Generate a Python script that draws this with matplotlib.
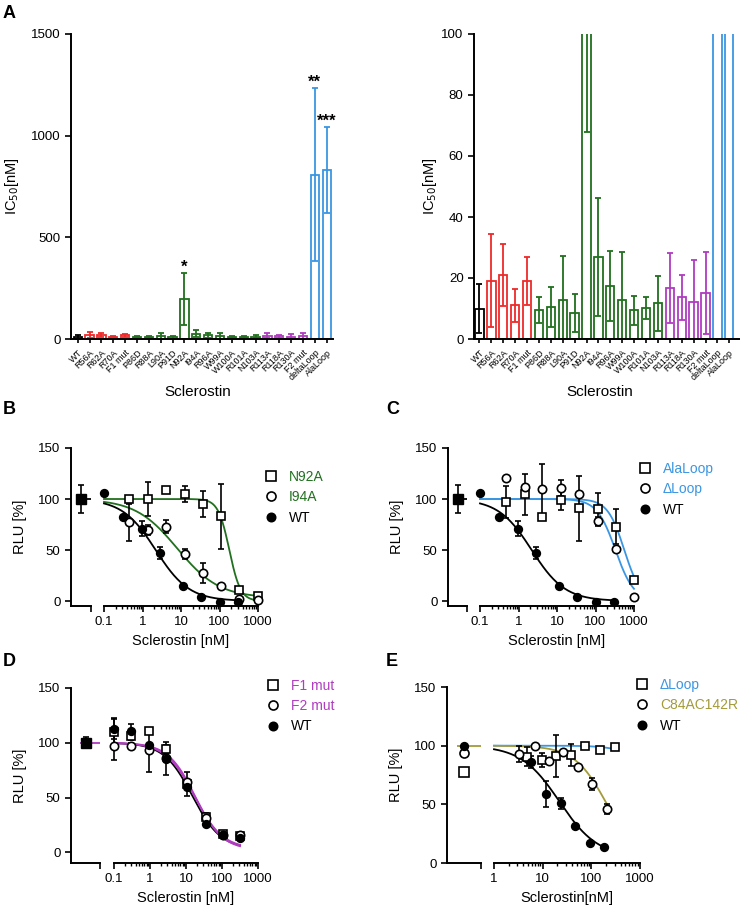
import numpy as np
import matplotlib.pyplot as plt
from matplotlib.lines import Line2D
from matplotlib.ticker import FuncFormatter, NullFormatter

plt.rcParams['font.family'] = ['Liberation Sans', 'DejaVu Sans']
plt.rcParams['axes.linewidth'] = 1.4
plt.rcParams['xtick.major.width'] = 1.2
plt.rcParams['ytick.major.width'] = 1.2
plt.rcParams['xtick.minor.width'] = 1.0
plt.rcParams['xtick.major.size'] = 4
plt.rcParams['ytick.major.size'] = 4
plt.rcParams['xtick.minor.size'] = 2
plt.rcParams['xtick.labelsize'] = 9.5
plt.rcParams['ytick.labelsize'] = 9.5

# colours
black = '#000000'
red = '#ee2a2a'
green = '#21701f'
purple = '#b03cc0'
blue = '#3a96e2'
olive = '#a39b3a'

# ---- panel A: IC50 per mutant ----
mutants = ['WT', 'R56A', 'R62A', 'R70A', 'F1 mut', 'P86D', 'R88A', 'L90A', 'P91D', 'N92A',
           'I94A', 'R96A', 'W99A', 'W100A', 'R101A', 'N103A', 'R113A', 'R118A', 'R130A',
           'F2 mut', 'deltaLoop', 'AlaLoop']
ic50 = [10, 19.1, 20.9, 11.1, 18.9, 9.5, 10.4, 12.9, 8.5, 196,
        27, 17.4, 12.9, 9.4, 10.3, 11.7, 16.8, 13.7, 12.1,
        15.1, 809, 832]
ic50_err = [8, 15.2, 10.1, 5.4, 7.9, 4.3, 6.6, 14.3, 6.3, 128,
            19.3, 11.6, 15.7, 4.8, 3.6, 9.1, 11.4, 7.4, 13.9,
            13.3, 424, 211]
mutant_group = ['wt', 'f1', 'f1', 'f1', 'f1', 'loop', 'loop', 'loop', 'loop', 'loop',
                'loop', 'loop', 'loop', 'loop', 'loop', 'loop', 'f2', 'f2', 'f2',
                'f2', 'del', 'del']
significance = ['', '', '', '', '', '', '', '', '', '*',
                '', '', '', '', '', '', '', '', '',
                '', '**', '***']
group_color = {'wt': black, 'f1': red, 'loop': green, 'f2': purple, 'del': blue}

# ---- panel B ----
b_n92a_conc = [0.45, 1.4, 4.2, 12.5, 37, 112, 330, 1000]
b_n92a = [100, 100, 109, 105, 95, 83, 11, 5]
b_n92a_err = [0, 17, 0, 8, 13, 32, 0, 0]
b_i94a_conc = [0.45, 1.4, 4.2, 12.5, 37, 112, 330, 1000]
b_i94a = [77, 70, 73, 46, 27.5, 15, 2, 1]
b_i94a_err = [18, 5, 6, 5, 10, 0, 0, 0]
wt_conc = [0.1, 0.32, 0.95, 2.8, 11.2, 33, 100, 295]
wt_rlu = [106, 82.5, 71, 47, 15, 4, -0.5, -1.2]
wt_err = [0, 0, 7, 6, 0, 0, 0, 0]

# ---- panel C ----
c_conc = [0.46, 1.47, 4.2, 12.6, 37, 116, 347, 1000]
c_alaloop = [97, 104.6, 82, 99, 91, 90, 73, 21]
c_alaloop_err = [16, 20, 0, 10, 32, 16, 17, 0]
c_dloop = [121, 112, 109.5, 110.5, 105, 78.4, 50.7, 3.6]
c_dloop_err = [0, 0, 25, 8, 0, 4, 0, 0]

# ---- panel D ----
d_conc = [0.1, 0.3, 0.92, 2.8, 11, 35, 110, 316]
d_f1 = [109.5, 106.4, 111, 94, 62, 32.3, 16.5, 14.6]
d_f1_err = [12, 4, 0, 4, 11, 4, 2, 0]
d_f2 = [97, 97, 93.3, 86, 64, 31, 16, 15.5]
d_f2_err = [13, 3, 20, 15, 0, 0, 0, 0]
d_wt = [113, 111, 98, 85, 60, 25.6, 15.5, 13.4]
d_wt_err = [10, 6, 0, 0, 0, 0, 0, 0]

# ---- panel E ----
e_dloop_conc = [4.85, 9.6, 19.2, 38, 75, 152, 300]
e_dloop = [90.6, 87.8, 91.2, 92, 100, 96, 99]
e_dloop_err = [8, 6, 18, 9, 0, 0, 0]
e_c84_conc = [3.3, 7, 13.3, 26.7, 52.6, 105, 208]
e_c84 = [93, 100, 87, 94.8, 82, 67.3, 46]
e_c84_err = [7, 0, 0, 0, 0, 5, 4]
e_wt_conc = [5.7, 11.7, 23.6, 46, 93, 183]
e_wt = [86.3, 58.8, 50.8, 31.5, 16.8, 13.9]
e_wt_err = [5, 11, 5, 0, 0, 0]
e_ctrl = {'dloop': 77.8, 'c84': 94, 'wt': 100}

# untreated control (no sclerostin) in B, C, D
ctrl_rlu = 100
ctrl_err = {'B': 14, 'C': 14, 'D': 5}

# fitted curves: top, bottom, IC50, hill
fit = {
    'B_n92a': (100, 0, 180, 3.0), 'B_i94a': (100, 3, 8, 0.8), 'wt_BC': (100, 0, 2.2, 1.0),
    'C_ala': (100, 0, 560, 2.0), 'C_dloop': (100, 0, 330, 1.8),
    'D_f1': (100, 2, 18, 1.15), 'D_f2': (100, 3, 17, 1.1), 'D_wt': (100, 3, 15, 1.1),
    'E_dloop': (100, 0, 3000, 1.5), 'E_c84': (100, 0, 210, 1.3), 'E_wt': (100, 5, 22, 1.1),
}

W, H = 740, 907
fig = plt.figure(figsize=(W / 100, H / 100), dpi=100)


def px_axes(x0, x1, y_top, y_bot, **kw):
    return fig.add_axes([x0 / W, 1 - y_bot / H, (x1 - x0) / W, (y_bot - y_top) / H], **kw)


def logistic(x, top, bottom, ic, hill):
    return bottom + (top - bottom) / (1 + (x / ic) ** hill)


def bar_panel(ax, ymax, yticks, stars, ylabel_pad):
    x = np.arange(len(mutants))
    colors = [group_color[g] for g in mutant_group]
    ax.bar(x, ic50, width=0.7, color='white', edgecolor=colors, linewidth=1.3, zorder=1)
    for xi, v, e, c, s in zip(x, ic50, ic50_err, colors, significance):
        ax.errorbar(xi, v, yerr=e, fmt='none', ecolor=c, elinewidth=1.3,
                    capsize=2.2, capthick=1.3, zorder=2)
        if stars and s:
            ax.text(xi, v + e + 8, s, ha='center', va='baseline',
                    fontsize=12, fontweight='bold')
    ax.set_ylim(0, ymax)
    ax.set_yticks(yticks)
    ax.set_xticks(x)
    ax.set_xticklabels(mutants, rotation=45, ha='right', rotation_mode='anchor', fontsize=6.5)
    ax.tick_params(axis='x', length=3)
    for s in ['top', 'right']:
        ax.spines[s].set_visible(False)
    ax.set_ylabel('IC$_{50}$[nM]', fontsize=10.5, labelpad=ylabel_pad)
    ax.set_xlabel('Sclerostin', fontsize=11)


axA1 = px_axes(71, 333, 34, 339)
bar_panel(axA1, 1500, [0, 500, 1000, 1500], True, 7)
axA1.set_xlim(-0.565, 21.53)
axA1.xaxis.set_label_coords(0.485, -0.15)

axA2 = px_axes(474, 740, 34, 339)
bar_panel(axA2, 100, [0, 20, 40, 60, 80, 100], False, 2)
axA2.set_xlim(-0.46, 21.9)
axA2.xaxis.set_label_coords(0.474, -0.15)


def dose_axes(x_axis, x_ctrl_end, x_log0, x_log1, y_top, y_bot, ylim, xlim, xlabel):
    ax_c = px_axes(x_axis, x_ctrl_end, y_top, y_bot)
    ax_l = px_axes(x_log0, x_log1, y_top, y_bot, sharey=ax_c)
    ax_c.set_ylim(ylim)
    ax_c.set_yticks([0, 50, 100, 150])
    ax_c.set_xlim(0, 1)
    ax_c.set_xticks([1])
    ax_c.set_xticklabels([''])
    for s in ['top', 'right']:
        ax_c.spines[s].set_visible(False)
    ax_c.set_ylabel('RLU [%]', fontsize=10.5, labelpad=8)
    ax_l.set_xscale('log')
    ax_l.set_xlim(xlim)
    for s in ['top', 'right', 'left']:
        ax_l.spines[s].set_visible(False)
    ax_l.tick_params(axis='y', left=False, labelleft=False)
    ax_l.xaxis.set_major_formatter(FuncFormatter(lambda v, p: f'{v:g}'))
    ax_l.xaxis.set_minor_formatter(NullFormatter())
    ax_l.set_xlabel(xlabel, fontsize=10.5, labelpad=4)
    return ax_c, ax_l


def plot_series(ax, conc, vals, errs, marker, filled, ms=6):
    ax.errorbar(conc, vals, yerr=errs, fmt='none', ecolor='black', elinewidth=1.2,
                capsize=2.5, capthick=1.2, zorder=2, clip_on=False)
    ax.plot(conc, vals, ls='none', marker=marker, ms=ms, mew=1.2, mec='black',
            mfc='black' if filled else 'white', zorder=3, clip_on=False)


def plot_curve(ax, key, x0, x1, color):
    xs = np.logspace(np.log10(x0), np.log10(x1), 200)
    ax.plot(xs, logistic(xs, *fit[key]), color=color, lw=1.3, zorder=1.5, clip_on=False)


def plot_control(ax_c, err, line_color):
    ax_c.hlines(ctrl_rlu, 0.3, 1.0, color=line_color, lw=1.3, zorder=1.5, clip_on=False)
    ax_c.errorbar([0.5], [ctrl_rlu], yerr=[err], fmt='none', ecolor='black', elinewidth=1.2,
                  capsize=2.5, capthick=1.2, zorder=2)
    ax_c.plot([0.5], [ctrl_rlu], ls='none', marker='s', ms=6.5, mfc='black', mec='black', zorder=3)


def add_legend(ax, labels, colors, x_px, y_px):
    handles = [
        Line2D([], [], ls='none', marker='s', ms=6.5, mew=1.2, mec='black', mfc='white'),
        Line2D([], [], ls='none', marker='o', ms=6.5, mew=1.2, mec='black', mfc='white'),
        Line2D([], [], ls='none', marker='o', ms=6, mew=1.2, mec='black', mfc='black'),
    ]
    leg = ax.legend(handles, labels, loc='upper left', bbox_to_anchor=(x_px / W, 1 - y_px / H),
                    bbox_transform=fig.transFigure, frameon=False, fontsize=10,
                    handlelength=1.0, handletextpad=0.8, labelspacing=0.45,
                    borderpad=0, borderaxespad=0)
    for t, c in zip(leg.get_texts(), colors):
        t.set_color(c)


# panel B
bc, bl = dose_axes(71, 91, 104, 258, 448, 606, (-4.9, 150), (0.1, 1000), 'Sclerostin [nM]')
plot_control(bc, ctrl_err['B'], black)
plot_curve(bl, 'B_n92a', 0.1, 1000, green)
plot_curve(bl, 'B_i94a', 0.1, 1000, green)
plot_curve(bl, 'wt_BC', 0.1, 300, black)
plot_series(bl, b_n92a_conc, b_n92a, b_n92a_err, 's', False)
plot_series(bl, b_i94a_conc, b_i94a, b_i94a_err, 'o', False)
plot_series(bl, wt_conc, wt_rlu, wt_err, 'o', True, 5.5)
add_legend(bl, ['N92A', 'I94A', 'WT'], [green, green, black], 264, 470)

# panel C
cc, cl = dose_axes(448, 467, 480, 634, 448, 606, (-4.9, 150), (0.1, 1000), 'Sclerostin [nM]')
plot_control(cc, ctrl_err['C'], black)
plot_curve(cl, 'C_ala', 0.1, 1000, blue)
plot_curve(cl, 'C_dloop', 0.1, 1000, blue)
plot_curve(cl, 'wt_BC', 0.1, 300, black)
plot_series(cl, c_conc, c_alaloop, c_alaloop_err, 's', False)
plot_series(cl, c_conc, c_dloop, c_dloop_err, 'o', False)
plot_series(cl, wt_conc, wt_rlu, wt_err, 'o', True, 5.5)
add_legend(cl, ['AlaLoop', '\u0394Loop', 'WT'], [blue, blue, black], 638, 462)

# panel D
dc, dl = dose_axes(71, 100, 114, 258, 688, 863, (-9.8, 150), (0.1, 1000), 'Sclerostin [nM]')
plot_control(dc, ctrl_err['D'], purple)
plot_curve(dl, 'D_wt', 0.1, 316, black)
plot_curve(dl, 'D_f1', 0.1, 316, purple)
plot_curve(dl, 'D_f2', 0.1, 316, purple)
plot_series(dl, d_conc, d_f1, d_f1_err, 's', False)
plot_series(dl, d_conc, d_f2, d_f2_err, 'o', False)
plot_series(dl, d_conc, d_wt, d_wt_err, 'o', True, 5.5)
add_legend(dl, ['F1 mut', 'F2 mut', 'WT'], [purple, purple, black], 266, 679)

# panel E
ec, el = dose_axes(447, 481, 494, 640, 687, 863, (0, 150), (1, 1000), 'Sclerostin[nM]')
ec.hlines(fit['E_c84'][0], 0.3, 1.0, color=olive, lw=1.3, zorder=1.5)
ec.plot([0.5], [e_ctrl['dloop']], ls='none', marker='s', ms=6.5, mew=1.2, mec='black', mfc='white', zorder=3)
ec.plot([0.5], [e_ctrl['c84']], ls='none', marker='o', ms=6.5, mew=1.2, mec='black', mfc='white', zorder=3)
ec.plot([0.5], [e_ctrl['wt']], ls='none', marker='o', ms=5.5, mew=1.2, mec='black', mfc='black', zorder=3)
plot_curve(el, 'E_dloop', 1, 300, blue)
plot_curve(el, 'E_c84', 1, 208, olive)
plot_curve(el, 'E_wt', 1, 183, black)
plot_series(el, e_dloop_conc, e_dloop, e_dloop_err, 's', False)
plot_series(el, e_c84_conc, e_c84, e_c84_err, 'o', False)
plot_series(el, e_wt_conc, e_wt, e_wt_err, 'o', True, 5.5)
add_legend(el, ['\u0394Loop', 'C84AC142R', 'WT'], [blue, olive, black], 635, 678)

# panel letters
for letter, (lx, ly) in zip('ABCDE', [(3, 5), (3, 401), (386, 401), (3, 653), (386, 653)]):
    fig.text(lx / W, 1 - ly / H, letter, fontsize=13, fontweight='bold', va='top', ha='left')

fig.savefig('out.png', dpi=100)
